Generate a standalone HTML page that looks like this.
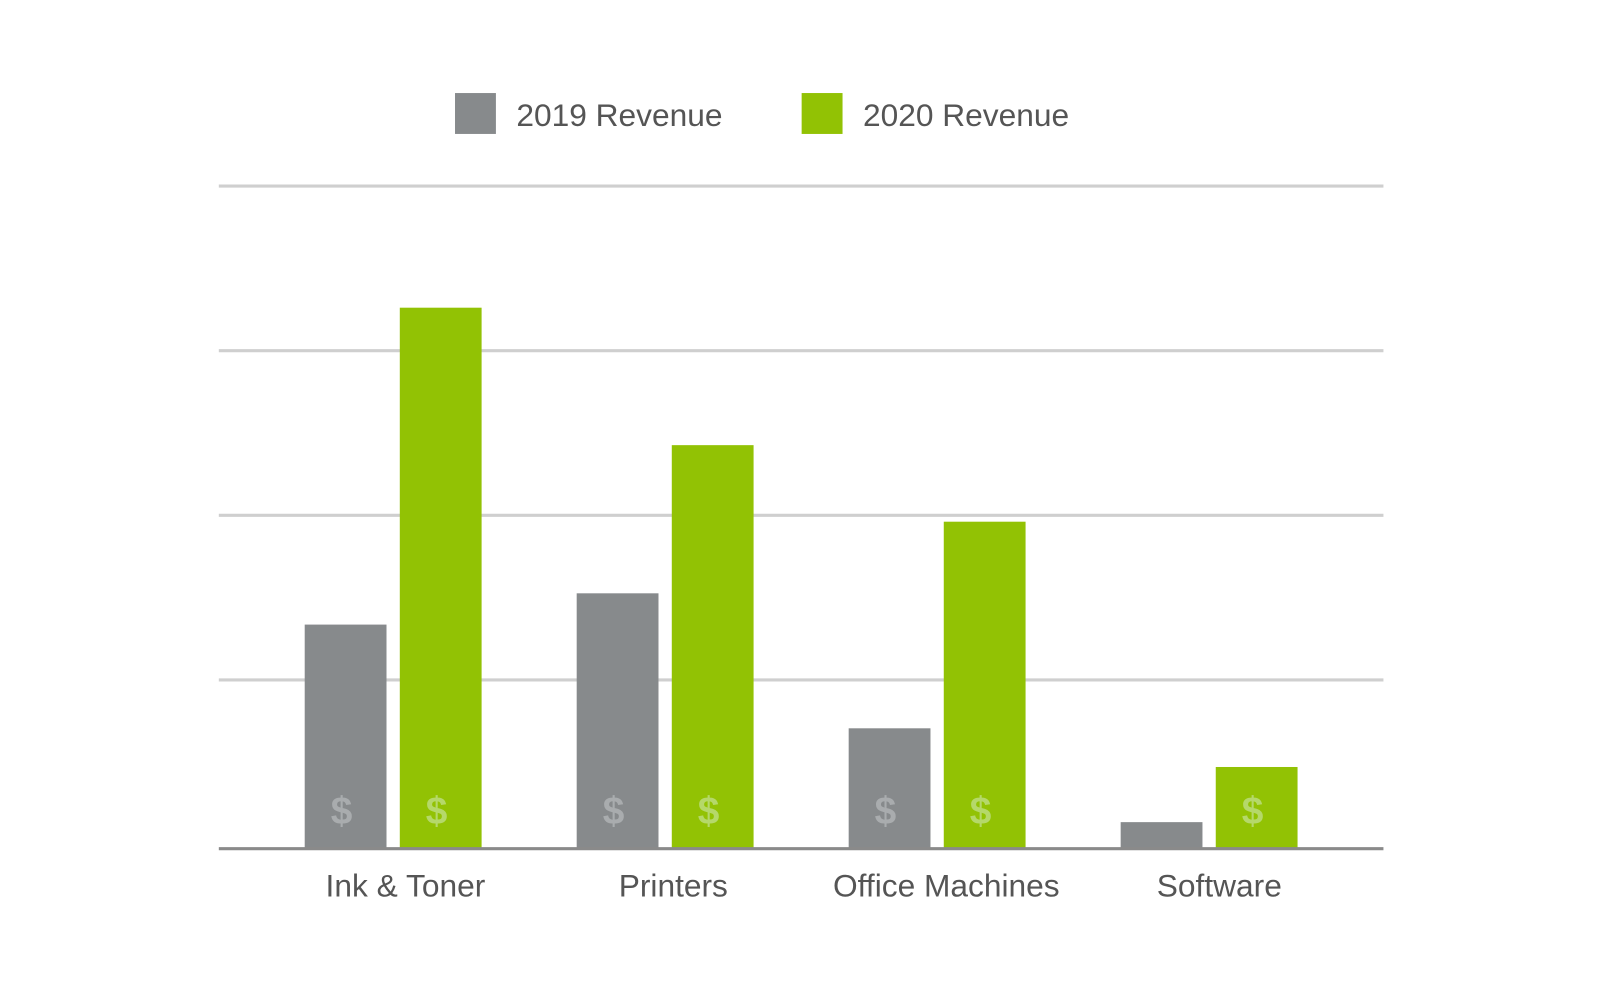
<!DOCTYPE html>
<html><head><meta charset="utf-8"><style>
html,body{margin:0;padding:0;background:#fff;}
svg{display:block;font-family:"Liberation Sans",sans-serif;}
</style></head><body>
<svg id="chart" width="1600" height="997"><g id="root" transform="scale(1.0225)"></g></svg>
<script>
const categories=["Ink & Toner","Printers","Office Machines","Software"];
const rev2019=[27.1,30.9,14.5,3.1];
const rev2020=[65.6,48.9,39.6,9.8];
const gridValues=[20,40,60,80];
const seriesNames=["2019 Revenue","2020 Revenue"];

const NS="http://www.w3.org/2000/svg";
const svg=document.getElementById('root');
function mk(t,a,p){const e=document.createElementNS(NS,t);for(const k in a)e.setAttribute(k,a[k]);(p||svg).appendChild(e);return e;}
const y0=829, unit=161/20;
const yS=v=>y0-v*unit;
const groupX=i=>384.5+266*i;
const barW=80, gap=13;

gridValues.forEach(v=>{
  const l=mk('line',{x1:214,x2:1353,y1:yS(v)-3,y2:yS(v)-3,stroke:'#cfcfcf','stroke-width':3});
  
  
});

const colors=['#878a8c','#92c204'], dollarCol=['#a9acae','#b5d86a'];
[rev2019,rev2020].forEach((s,si)=>{
  s.forEach((v,i)=>{
    const x=si===0?groupX(i)-gap/2-barW:groupX(i)+gap/2;
    const r=mk('rect',{x:x,y:yS(v),width:barW,height:y0-yS(v),fill:colors[si]});
    
    
    if(y0-yS(v)>60){
      const d=mk('text',{x:x+barW/2-4,y:806,'text-anchor':'middle','font-size':38,'font-weight':'bold',fill:dollarCol[si]});
      d.textContent='$';
      
      
    }
  });
});

const base=mk('line',{x1:214,x2:1353,y1:830,y2:830,stroke:'#8a8a8a','stroke-width':3});



const labelOff=[12,8,9,10];
categories.forEach((c,i)=>{
  const t=mk('text',{x:groupX(i)+labelOff[i],y:877,'text-anchor':'middle','font-size':31,fill:'#555'});
  t.textContent=c;
  
  
});

const legX=[445,784];
seriesNames.forEach((n,i)=>{
  const r=mk('rect',{x:legX[i],y:91,width:40,height:40,fill:colors[i]});
  
  
  const t=mk('text',{x:legX[i]+60,y:123,'font-size':31,fill:'#555'});
  t.textContent=n;
  
  
});
</script>
</body></html>
